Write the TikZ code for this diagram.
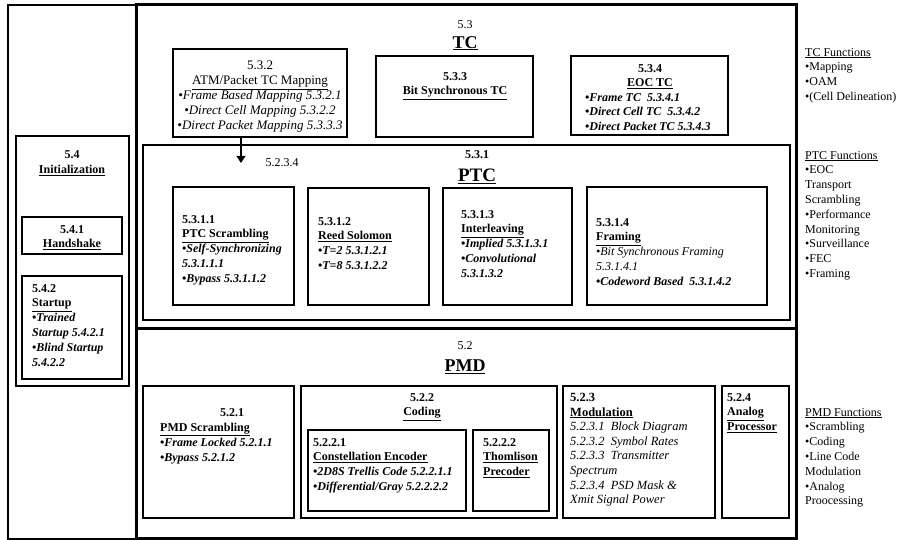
\documentclass[tikz,border=0pt]{standalone}
\usepackage{fontspec}
\setmainfont{Liberation Serif}
\usetikzlibrary{arrows.meta,fit,positioning}

\tikzset{
  frame/.style={draw, line width=1.1pt, inner sep=0pt},
  heavyframe/.style={draw, line width=3pt, inner sep=0pt},
  ptcframe/.style={draw, line width=2pt, inner sep=0pt},
  txt/.style={inner sep=0pt, font=\fontsize{12}{14.8}\selectfont},
  bold/.style={font=\fontsize{12}{14.8}\selectfont\bfseries},
  bolditalic/.style={font=\fontsize{12}{14.8}\selectfont\bfseries\itshape},
  lefttxt/.style={txt, anchor=north west, align=left},
  midtxt/.style={txt, anchor=north, align=center},
  bigtitle/.style={inner sep=0pt, anchor=north, font=\fontsize{18}{20}\selectfont\bfseries},
}

\begin{document}
\begin{tikzpicture}[x=1pt, y=-1pt]
  \useasboundingbox (0,0) rectangle (904,540);

  % Frames
  \node[frame, fit={(8,5) (136,539)}] (outerbox) {};
  \node[heavyframe, fit={(136,5) (796,328)}] (tcbox) {};
  \node[heavyframe, fit={(136,328) (796,538)}] (pmdbox) {};
  \node[ptcframe, fit={(143,145) (790,320)}] (ptcbox) {};
  \foreach \n/\xa/\ya/\xb/\yb in {box54/16/136/129/386, box541/22/217/122/254, box542/22/276/122/379,
      box532/173/49/347/137, box533/376/56/533/137, box534/571/56/728/135,
      box5311/173/187/294/305, box5312/308/188/429/305, box5313/443/188/572/305, box5314/587/187/767/305,
      box521/143/386/294/518, box522/301/386/557/518, box5221/308/430/466/511, box5222/473/430/549/511,
      box523/563/386/715/518, box524/722/386/789/518} {
    \node[frame, fit={(\xa,\ya) (\xb,\yb)}] (\n) {};
  }

  % Initialization
  \node[midtxt, bold] (t54) at (72,150) {5.4\\[1pt]\underline{Initialization}};
  \node[midtxt, bold] (t541) at (72,225) {5.4.1\\\underline{Handshake}};
  \node[lefttxt, bold] (t542) at (32,284) {5.4.2\\\underline{Startup}\\\textit{•Trained}\\\textit{Startup 5.4.2.1}\\\textit{•Blind Startup}\\\textit{5.4.2.2}};

  % TC
  \node[midtxt] (tcnum) at (465,20) {5.3};
  \node[bigtitle] (tctitle) at (465,36) {\underline{TC}};
  \node[midtxt, font=\fontsize{13}{14.8}\selectfont] (t532) at (260,61) {5.3.2\\\underline{ATM/Packet TC Mapping}\\\textit{•Frame Based Mapping 5.3.2.1}\\\textit{•Direct Cell Mapping 5.3.2.2}\\\textit{•Direct Packet Mapping 5.3.3.3}};
  \node[midtxt, bold] (t533) at (455,72) {5.3.3\\\underline{Bit Synchronous TC}};
  \node[midtxt, bold] (t534) at (650,64) {5.3.4\\\underline{EOC TC}};
  \node[lefttxt, bolditalic] (l534) at (585,93) {•Frame TC~~5.3.4.1\\•Direct Cell TC~~5.3.4.2\\•Direct Packet TC 5.3.4.3};

  \coordinate (ptcin) at (241,163);
  \draw[-{Triangle[width=9pt,length=7pt]}, line width=1.1pt] (box532.south -| ptcin) -- (ptcin);
  \node[midtxt] (lbl5234) at (282,158) {5.2.3.4};

  % PTC
  \node[midtxt, bold] (ptcnum) at (477,150) {5.3.1};
  \node[bigtitle, font=\fontsize{19}{21}\selectfont\bfseries] (ptctitle) at (477,169) {\underline{PTC}};
  \node[lefttxt, bold] (t5311) at (182,215) {5.3.1.1\\\underline{PTC Scrambling}\\\textit{•Self-Synchronizing}\\\textit{5.3.1.1.1}\\\textit{•Bypass 5.3.1.1.2}};
  \node[lefttxt, bold] (t5312) at (318,217) {5.3.1.2\\\underline{Reed Solomon}\\\textit{•T=2 5.3.1.2.1}\\\textit{•T=8 5.3.1.2.2}};
  \node[lefttxt, bold] (t5313) at (461,210) {5.3.1.3\\\underline{Interleaving}\\\textit{•Implied 5.3.1.3.1}\\\textit{•Convolutional}\\\textit{5.3.1.3.2}};
  \node[lefttxt] (t5314) at (596,218) {\textbf{5.3.1.4}\\\textbf{\underline{Framing}}\\\textit{•Bit Synchronous Framing}\\\textit{5.3.1.4.1}\\\textbf{\textit{•Codeword Based~~5.3.1.4.2}}};

  % PMD
  \node[midtxt] (pmdnum) at (465,341) {5.2};
  \node[bigtitle] (pmdtitle) at (465,360) {\underline{PMD}};
  \node[midtxt, bold] (t521) at (232,408) {5.2.1};
  \node[lefttxt, bold] (l521) at (160,423) {\underline{PMD Scrambling}\\\textit{•Frame Locked 5.2.1.1}\\\textit{•Bypass 5.2.1.2}};
  \node[midtxt, bold] (t522) at (422,393) {5.2.2\\\underline{Coding}};
  \node[lefttxt, bold] (t5221) at (313,438) {5.2.2.1\\\underline{Constellation Encoder}\\\textit{•2D8S Trellis Code 5.2.2.1.1}\\\textit{•Differential/Gray 5.2.2.2.2}};
  \node[lefttxt, bold] (t5222) at (483,438) {5.2.2.2\\\underline{Thomlison}\\\underline{Precoder}};
  \node[lefttxt, font=\fontsize{12.5}{14.6}\selectfont] (t523) at (570,393) {\textbf{5.2.3}\\\textbf{\underline{Modulation}}\\\textit{5.2.3.1~~Block Diagram}\\\textit{5.2.3.2~~Symbol Rates}\\\textit{5.2.3.3~~Transmitter}\\\textit{Spectrum}\\\textit{5.2.3.4~~PSD Mask \&}\\\textit{Xmit Signal Power}};
  \node[lefttxt, bold] (t524) at (727,393) {5.2.4\\\underline{Analog}\\\underline{Processor}};

  % Function lists
  \node[lefttxt] (tcfun) at (805,48) {\underline{TC Functions}\\•Mapping\\•OAM\\•(Cell Delineation)};
  \node[lefttxt] (ptcfun) at (805,151) {\underline{PTC Functions}\\•EOC\\Transport\\Scrambling\\•Performance\\Monitoring\\•Surveillance\\•FEC\\•Framing};
  \node[lefttxt] (pmdfun) at (805,408) {\underline{PMD Functions}\\•Scrambling\\•Coding\\•Line Code\\Modulation\\•Analog\\Proocessing};
\end{tikzpicture}
\end{document}
